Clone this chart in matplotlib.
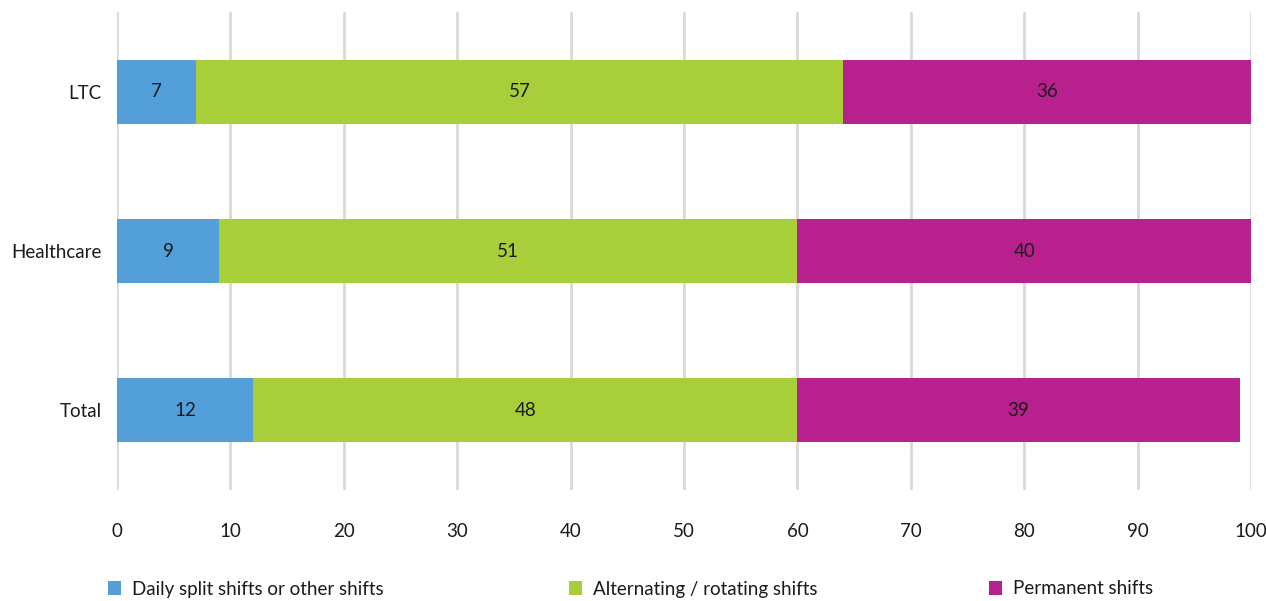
import matplotlib
matplotlib.use("Agg")
import matplotlib.pyplot as plt
from matplotlib.patches import Patch
import numpy as np

plt.rcParams['font.family'] = ['Lato', 'DejaVu Sans']

categories = ["Total", "Healthcare", "LTC"]
daily_split = [12, 9, 7]
alternating = [48, 51, 57]
permanent = [39, 40, 36]

series_names = ["Daily split shifts or other shifts",
                "Alternating / rotating shifts",
                "Permanent shifts"]
colors = ["#539fd9", "#a8cf3a", "#b8208d"]
x_ticks = list(range(0, 101, 10))

W, H = 1266, 601
fig = plt.figure(figsize=(W / 100, H / 100), dpi=100)
ax = fig.add_axes([117 / W, 1 - 490 / H, (1251 - 117) / W, (490 - 12) / H])

FS = 13.5
y = np.arange(len(categories))
left = np.zeros(len(categories))
text_color = "#1a1a1a"
for vals, color, name in zip([daily_split, alternating, permanent], colors, series_names):
    vals = np.array(vals, dtype=float)
    ax.barh(y, vals, left=left, height=0.4, color=color, label=name, zorder=3)
    for yi, l, v in zip(y, left, vals):
        ax.text(l + v / 2, yi, f"{v:g}", ha="center", va="center",
                fontsize=FS, color=text_color, zorder=4)
    left += vals

ax.set_xlim(0, 100)
ax.set_ylim(-0.5, len(categories) - 0.5)
ax.set_xticks(x_ticks)
ax.set_yticks(y)
ax.set_yticklabels(categories)
ax.tick_params(axis="x", length=0, pad=24, labelsize=FS, labelcolor=text_color)
ax.tick_params(axis="y", length=0, pad=11, labelsize=FS, labelcolor=text_color)
ax.grid(axis="x", color="#d9d9d9", linewidth=2, zorder=0)
for s in ax.spines.values():
    s.set_visible(False)

# Legend entries placed individually along the bottom
legend_x = [108, 569, 989]
for name, color, lx in zip(series_names, colors, legend_x):
    leg = fig.legend(handles=[Patch(facecolor=color, label=name)],
                     loc="center left", bbox_to_anchor=(lx / W, 1 - 589 / H),
                     frameon=False, fontsize=FS, handlelength=0.7, handleheight=0.7,
                     handletextpad=0.6, borderpad=0, borderaxespad=0)
    for t in leg.get_texts():
        t.set_color(text_color)

fig.savefig("out.png", dpi=100)
